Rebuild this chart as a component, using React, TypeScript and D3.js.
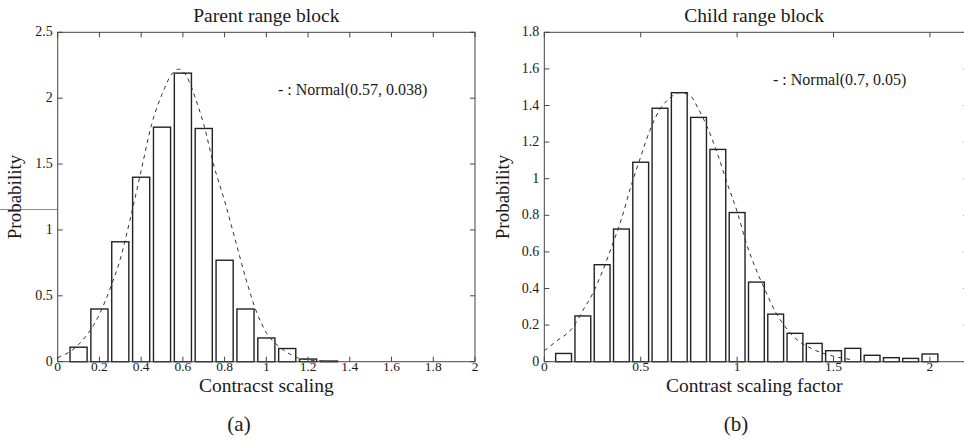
import React from 'react';
import * as d3 from 'd3';

// (a) parent range block
const parentBins = [0.1, 0.2, 0.3, 0.4, 0.5, 0.6, 0.7, 0.8, 0.9, 1.0, 1.1, 1.2, 1.3];
const parentProb = [0.11, 0.4, 0.91, 1.4, 1.78, 2.19, 1.77, 0.77, 0.4, 0.18, 0.1, 0.02, 0.005];
const parentFitX = [0, 0.1, 0.2, 0.25, 0.3, 0.35, 0.4, 0.45, 0.5, 0.55, 0.58, 0.62, 0.66, 0.7, 0.75, 0.8, 0.85, 0.9, 0.95, 1.0, 1.05, 1.1, 1.15, 1.2, 1.3];
const parentFitY = [0.03, 0.13, 0.36, 0.55, 0.78, 1.1, 1.45, 1.8, 2.03, 2.19, 2.22, 2.16, 2.0, 1.8, 1.48, 1.22, 0.93, 0.64, 0.39, 0.22, 0.13, 0.07, 0.03, 0.015, 0];
const parentXTicks = [0, 0.2, 0.4, 0.6, 0.8, 1, 1.2, 1.4, 1.6, 1.8, 2];
const parentXLabels = ['0', '0.2', '0.4', '0.6', '0.8', '1', '1.2', '1.4', '1.6', '1.8', '2'];
const parentYTicks = [0, 0.5, 1, 1.5, 2, 2.5];
const parentYLabels = ['0', '0.5', '1', '1.5', '2', '2.5'];

// (b) child range block
const childBins = [0.1, 0.2, 0.3, 0.4, 0.5, 0.6, 0.7, 0.8, 0.9, 1.0, 1.1, 1.2, 1.3, 1.4, 1.5, 1.6, 1.7, 1.8, 1.9, 2.0];
const childProb = [0.045, 0.25, 0.53, 0.725, 1.09, 1.385, 1.47, 1.335, 1.16, 0.815, 0.435, 0.26, 0.155, 0.1, 0.06, 0.073, 0.035, 0.022, 0.018, 0.042];
const childFitX = [0, 0.06, 0.15, 0.2, 0.25, 0.3, 0.35, 0.4, 0.45, 0.5, 0.55, 0.6, 0.65, 0.7, 0.75, 0.8, 0.85, 0.9, 0.95, 1.0, 1.05, 1.1, 1.15, 1.2, 1.25, 1.3, 1.4, 1.5, 1.6];
const childFitY = [0.06, 0.11, 0.19, 0.28, 0.37, 0.49, 0.63, 0.78, 0.96, 1.12, 1.27, 1.38, 1.44, 1.47, 1.46, 1.38, 1.27, 1.13, 0.97, 0.82, 0.64, 0.5, 0.38, 0.27, 0.19, 0.13, 0.065, 0.03, 0.01];
const childXTicks = [0, 0.5, 1, 1.5, 2];
const childXLabels = ['0', '0.5', '1', '1.5', '2'];
const childYTicks = [0, 0.2, 0.4, 0.6, 0.8, 1, 1.2, 1.4, 1.6, 1.8];
const childYLabels = ['0', '0.2', '0.4', '0.6', '0.8', '1', '1.2', '1.4', '1.6', '1.8'];

const FONT = '"Liberation Serif", "DejaVu Serif", serif';
const INK = '#1a1a1a';

type PanelProps = {
  x0: number; x1: number; y0: number; y1: number;
  xMax: number; yMax: number;
  bins: number[]; probs: number[];
  fitX: number[]; fitY: number[];
  xTicks: number[]; xLabels: string[];
  yTicks: number[]; yLabels: string[];
  title: string; xLabel: string; legend: string;
  legendX: number; legendY: number;
  tag: string; tagX: number; yLabelX: number;
};

function Panel(p: PanelProps) {
  const x = d3.scaleLinear().domain([0, p.xMax]).range([p.x0, p.x1]);
  const y = d3.scaleLinear().domain([0, p.yMax]).range([p.y1, p.y0]);
  const barW = 0.082;
  const fit = d3.line<number>()
    .x((_, i) => x(p.fitX[i]))
    .y(d => y(d))
    .curve(d3.curveMonotoneX);
  const tl = 5;
  const cx = (p.x0 + Math.min(p.x1, 964)) / 2;

  return (
    <g fontFamily={FONT} fill={INK}>
      <text x={cx} y={22} textAnchor="middle" fontSize={19.5}>{p.title}</text>

      {p.bins.map((b, i) => (
        <rect key={i}
          x={x(b - barW / 2)} y={y(p.probs[i])}
          width={x(b + barW / 2) - x(b - barW / 2)}
          height={y(0) - y(p.probs[i])}
          fill="#fff" stroke="#222" strokeWidth={1.4} />
      ))}

      <path d={fit(p.fitY) || ''} fill="none" stroke="#333" strokeWidth={1} strokeDasharray="4,4" />

      {/* frame */}
      <rect x={p.x0} y={p.y0} width={p.x1 - p.x0} height={p.y1 - p.y0} fill="none" stroke="#444" strokeWidth={1} />

      {p.xTicks.map((t, i) => (
        <g key={'x' + i}>
          <line x1={x(t)} x2={x(t)} y1={p.y1} y2={p.y1 - tl} stroke="#444" />
          <line x1={x(t)} x2={x(t)} y1={p.y0} y2={p.y0 + tl} stroke="#444" />
          <text x={x(t)} y={p.y1 + 9} textAnchor="middle" fontSize={13.5}>{p.xLabels[i]}</text>
        </g>
      ))}
      {p.yTicks.map((t, i) => (
        <g key={'y' + i}>
          <line x1={p.x0} x2={p.x0 + tl} y1={y(t)} y2={y(t)} stroke="#444" />
          <line x1={p.x1} x2={p.x1 - tl} y1={y(t)} y2={y(t)} stroke="#444" />
          <text x={p.x0 - 5} y={y(t) + 4} textAnchor="end" fontSize={14}>{p.yLabels[i]}</text>
        </g>
      ))}

      <text x={p.legendX} y={p.legendY} fontSize={16}>{p.legend}</text>

      <text transform={`translate(${p.yLabelX},${(p.y0 + p.y1) / 2}) rotate(-90)`} textAnchor="middle" fontSize={19}>Probability</text>
      <text x={cx} y={391.5} textAnchor="middle" fontSize={19.5}>{p.xLabel}</text>
      <text x={p.tagX} y={431} textAnchor="middle" fontSize={21}>{p.tag}</text>
    </g>
  );
}

export default function App() {
  return (
    <svg width={964} height={442} style={{ position: 'absolute', left: 0, top: 0, background: '#fff' }}>
      <rect width={964} height={442} fill="#fff" />
      <line x1={0} x2={57} y1={209.5} y2={209.5} stroke="#888" strokeWidth={1} />
      <Panel
        x0={57.7} x1={475} y0={32.3} y1={361.7} xMax={2} yMax={2.5}
        bins={parentBins} probs={parentProb} fitX={parentFitX} fitY={parentFitY}
        xTicks={parentXTicks} xLabels={parentXLabels} yTicks={parentYTicks} yLabels={parentYLabels}
        title="Parent range block" xLabel="Contracst scaling" legend="- : Normal(0.57, 0.038)"
        legendX={278} legendY={95} tag="(a)" tagX={239} yLabelX={21}
      />
      <Panel
        x0={544.3} x1={968.5} y0={32.3} y1={361.7} xMax={2.2} yMax={1.8}
        bins={childBins} probs={childProb} fitX={childFitX} fitY={childFitY}
        xTicks={childXTicks} xLabels={childXLabels} yTicks={childYTicks} yLabels={childYLabels}
        title="Child range block" xLabel="Contrast scaling factor" legend="- : Normal(0.7, 0.05)"
        legendX={773} legendY={85} tag="(b)" tagX={736} yLabelX={509}
      />
    </svg>
  );
}
